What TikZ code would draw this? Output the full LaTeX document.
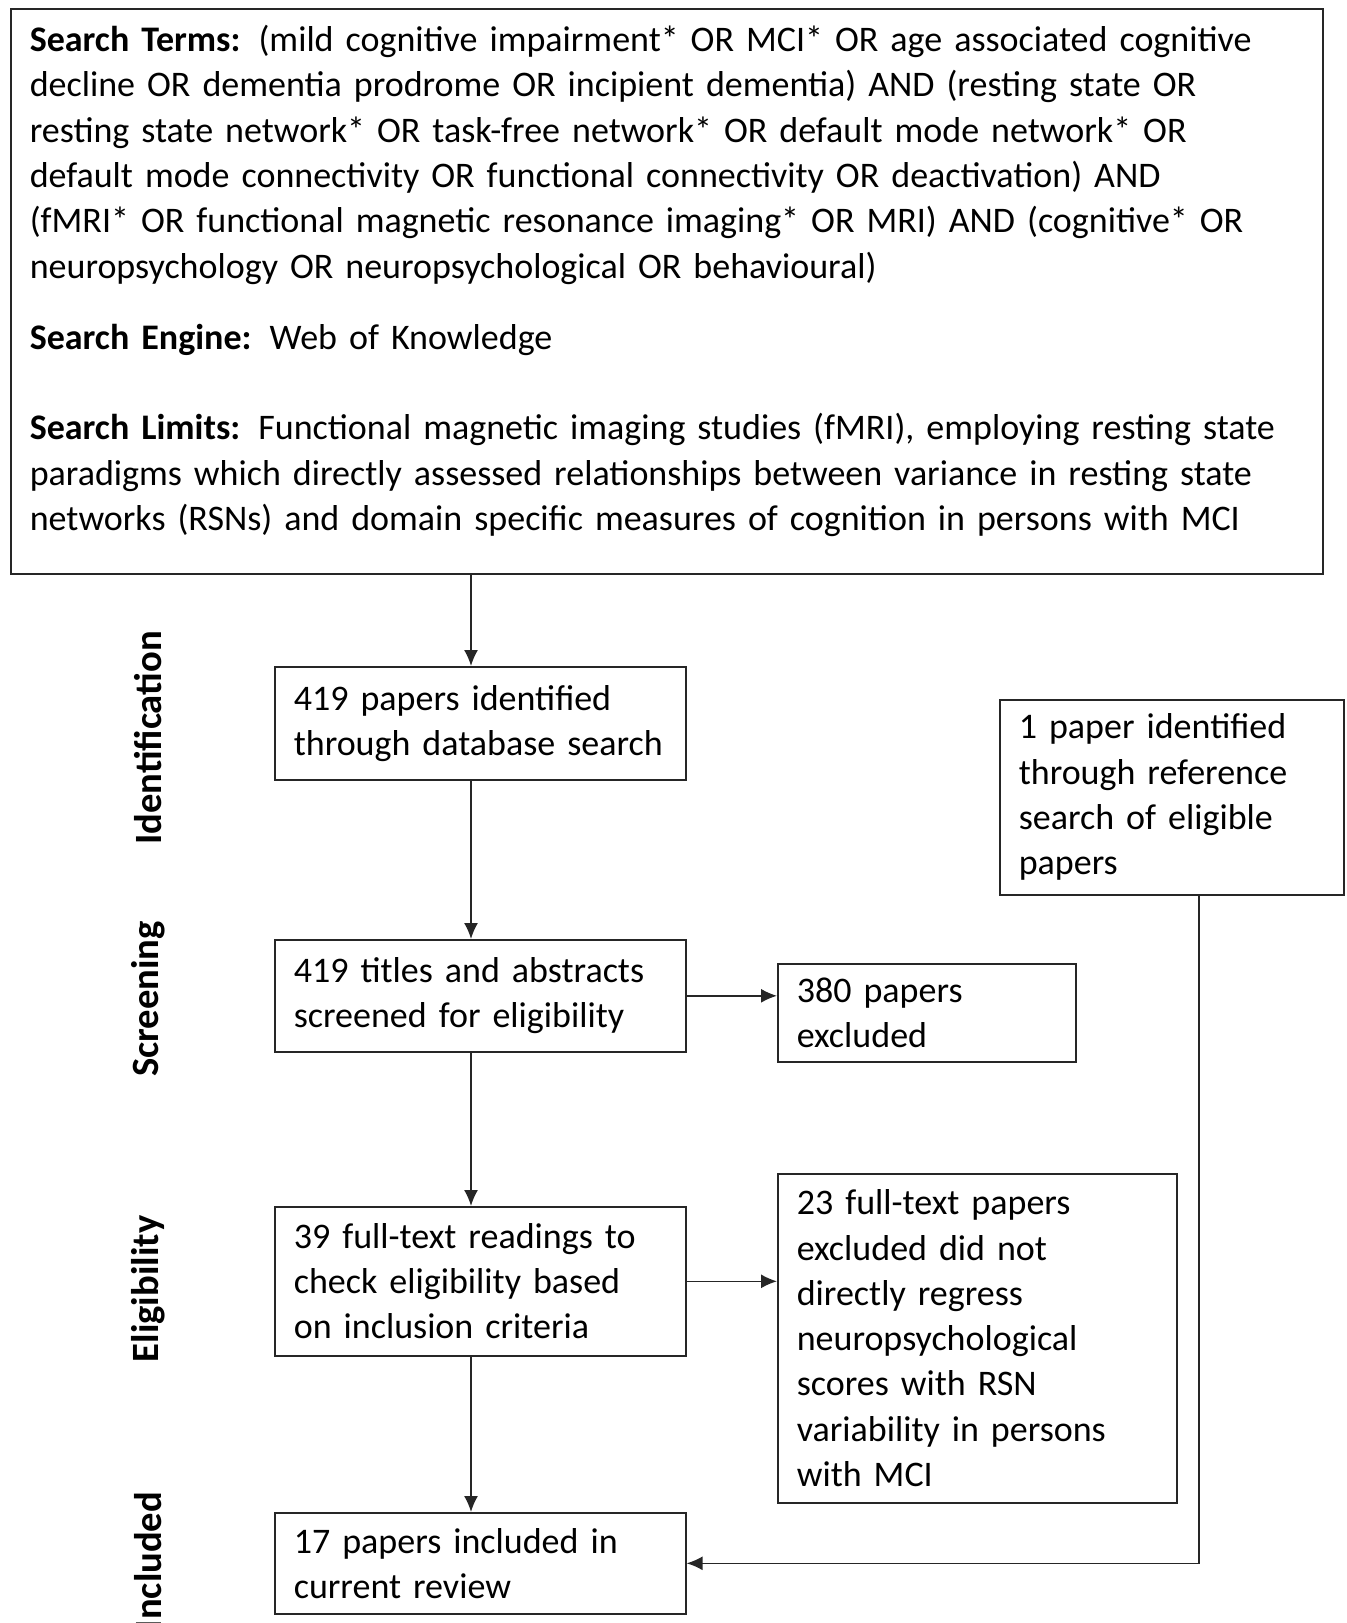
\documentclass[tikz,border=0pt]{standalone}
\usepackage{fontspec}
\setmainfont{Carlito}
\usepackage{tikz}
\tikzset{
  box_font/.style = {font=\fontsize{18}{22.65}\selectfont},
  phase_font/.style = {font=\fontsize{19.3}{22}\selectfont\bfseries},
  box_line/.style = {draw=black!85, line width=0.8pt}
}
\tikzset{
  block/.style = {box_font, box_line, align=left, inner xsep=9.5pt, inner ysep=0pt, anchor=north west},
  wide/.style = {block, text width=637pt, minimum height=282.5pt},
  step_box/.style = {block, text width=186.5pt},
  side_box/.style = {block, text width=#1},
  phase/.style = {phase_font, rotate=90, anchor=center},
  flow/.style = {line width=0.8pt, draw=black!85, -{Latex[length=8pt, width=7pt]}}
}
\usetikzlibrary{arrows.meta, positioning, calc}

\begin{document}
\begin{tikzpicture}[x=0.5pt, y=-0.5pt]{
        \useasboundingbox (0,0) rectangle (1346,1623);

        % Search strategy
        \node[wide] at (10,8) (terms) {
            \textbf{Search Terms:} (mild cognitive impairment* OR MCI* OR age associated cognitive\\
            decline OR dementia prodrome OR incipient dementia) AND (resting state OR\\
            resting state network* OR task-free network* OR default mode network* OR\\
            default mode connectivity OR functional connectivity OR deactivation) AND\\
            (fMRI* OR functional magnetic resonance imaging* OR MRI) AND (cognitive* OR\\
            neuropsychology OR neuropsychological OR behavioural)\\[13pt]
            \textbf{Search Engine:} Web of Knowledge\\[22.5pt]
            \textbf{Search Limits:} Functional magnetic imaging studies (fMRI), employing resting state\\
            paradigms which directly assessed relationships between variance in resting state\\
            networks (RSNs) and domain specific measures of cognition in persons with MCI\rule[-13.5pt]{0pt}{1pt}
            };

        % Main column
        \node[step_box, minimum height=56.5pt] at (274,666) (ident) {
            419 papers identified\\
            through database search
            };
        \node[step_box, minimum height=56pt] at (274,939) (screen) {
            419 titles and abstracts\\
            screened for eligibility
            };
        \node[step_box, minimum height=74.5pt] at (274,1206) (elig) {
            39 full-text readings to\\
            check eligibility based\\
            on inclusion criteria
            };
        \node[step_box, minimum height=50.5pt] at (274,1512) (incl) {
            17 papers included in\\
            current review
            };

        % Side boxes
        \node[side_box=153pt, minimum height=97.5pt] at (999,699) (ref) {
            1 paper identified\\
            through reference\\
            search of eligible\\
            papers
            };
        \node[side_box=130pt, minimum height=49pt] at (777,963) (excl_1) {
            380 papers\\
            excluded
            };
        \node[side_box=180.5pt, minimum height=164.5pt] at (777,1173) (excl_2) {
            23 full-text papers\\
            excluded did not\\
            directly regress\\
            neuropsychological\\
            scores with RSN\\
            variability in persons\\
            with MCI
            };

        % Phases
        \node[phase] at (148,738) (p_ident) {Identification};
        \node[phase] at (148,999) (p_screen) {Screening};
        \node[phase] at (148,1289) (p_elig) {Eligibility};
        \node[phase] at (148,1561) (p_incl) {Included};

        % Arrows and lines
        \coordinate (spine) at (471,0);
        \coordinate (drop) at (1199,0);

        \draw[flow] (terms.south -| spine)--(ident.north -| spine);
        \draw[flow] (ident.south -| spine)--(screen.north -| spine);
        \draw[flow] (screen.south -| spine)--(elig.north -| spine);
        \draw[flow] (elig.south -| spine)--(incl.north -| spine);

        \draw[flow] (screen.east)--(screen.east -| excl_1.west);
        \draw[flow] (elig.east)--(elig.east -| excl_2.west);
        \draw[flow] (ref.south -| drop) |- (incl.east);
        }
    \end{tikzpicture}
\end{document}
